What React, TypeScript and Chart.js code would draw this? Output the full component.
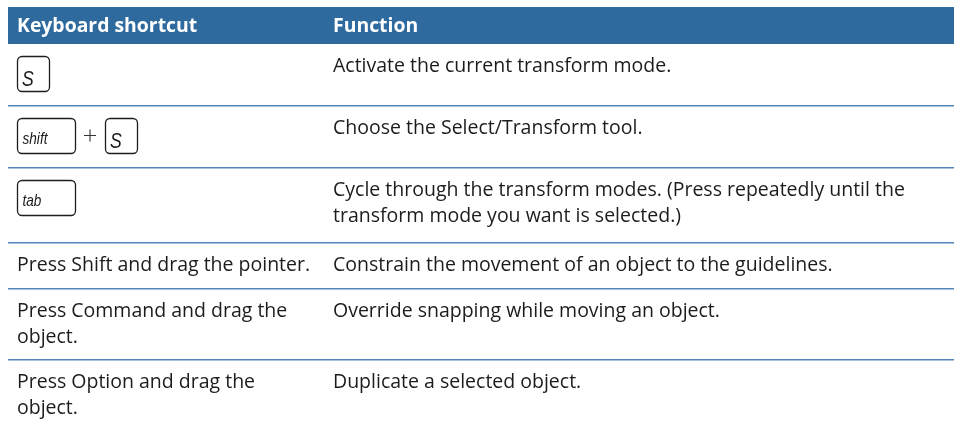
import React, { useEffect, useRef } from "react";
import { Chart, registerables } from "chart.js";

Chart.register(...registerables);

// ---------- data ----------
const headers: string[] = ["Keyboard shortcut", "Function"];

// keys pressed (null when the shortcut is described in words)
const shortcutKeys: (string[] | null)[] = [
  ["S"],
  ["shift", "S"],
  ["tab"],
  null,
  null,
  null,
];

const shortcutText: string[][] = [
  [],
  [],
  [],
  ["Press Shift and drag the pointer."],
  ["Press Command and drag the", "object."],
  ["Press Option and drag the", "object."],
];

const functionText: string[][] = [
  ["Activate the current transform mode."],
  ["Choose the Select/Transform tool."],
  [
    "Cycle through the transform modes. (Press repeatedly until the",
    "transform mode you want is selected.)",
  ],
  ["Constrain the movement of an object to the guidelines."],
  ["Override snapping while moving an object."],
  ["Duplicate a selected object."],
];

// ---------- layout (page-pixel units used on the scales) ----------
const W = 954;
const H = 426;
const TABLE_LEFT = 8;
const HEADER_TOP = 7;
const HEADER_BOTTOM = 44;
const ROW_TOPS = [44, 106, 168, 243, 289, 360];
const COL_X = [17, 333];
const BASELINE_OFFSET = 28;
const LINE_HEIGHT = 26;
const HEADER_BASELINE = 32;
const KEY_TOP_OFFSET = 12;
const KEY_H = 35;
const KEY_W_LETTER = 32;
const KEY_W_WORD = 58;
const KEY_GAP = 30;

const HEADER_BG = "#2e6a9e";
const RULE_COLOR = "#5585b8";
const TEXT_COLOR = "#1c1c1c";
const BODY_FONT = '19.5px "Open Sans"';
const HEAD_FONT = 'bold 19.4px "Open Sans"';

const tablePlugin = {
  id: "tableCells",
  beforeDraw(chart: any) {
    const { ctx, scales } = chart;
    const xs = scales.x;
    const ys = scales.y;
    const px = (v: number) => xs.getPixelForValue(v);
    const py = (v: number) => ys.getPixelForValue(v);
    ctx.save();
    ctx.fillStyle = "#ffffff";
    ctx.fillRect(0, 0, chart.width, chart.height);
    ctx.fillStyle = HEADER_BG;
    ctx.fillRect(px(TABLE_LEFT), py(HEADER_TOP), px(W) - px(TABLE_LEFT), py(HEADER_BOTTOM) - py(HEADER_TOP));
    ctx.restore();
  },
  afterDraw(chart: any) {
    const { ctx, scales } = chart;
    const xs = scales.x;
    const ys = scales.y;
    const px = (v: number) => xs.getPixelForValue(v);
    const py = (v: number) => ys.getPixelForValue(v);
    ctx.save();
    ctx.textBaseline = "alphabetic";
    ctx.textAlign = "left";

    // header labels
    ctx.fillStyle = "#ffffff";
    ctx.font = HEAD_FONT;
    headers.forEach((h, i) => ctx.fillText(h, px(COL_X[i]), py(HEADER_BASELINE)));

    // body
    ctx.fillStyle = TEXT_COLOR;
    ctx.font = BODY_FONT;
    ROW_TOPS.forEach((top, r) => {
      const base = top + BASELINE_OFFSET;
      shortcutText[r].forEach((line, li) => {
        ctx.fillText(line, px(COL_X[0]), py(base + li * LINE_HEIGHT));
      });
      functionText[r].forEach((line, li) => {
        ctx.fillText(line, px(COL_X[1]), py(base + li * LINE_HEIGHT));
      });

      const keys = shortcutKeys[r];
      if (keys) {
        let kx = COL_X[0];
        const ky = top + KEY_TOP_OFFSET;
        keys.forEach((k, ki) => {
          const single = k.length === 1;
          const kw = single ? KEY_W_LETTER : KEY_W_WORD;
          const x0 = px(kx);
          const y0 = py(ky);
          const w = px(kx + kw) - x0;
          const h = py(ky + KEY_H) - y0;
          ctx.save();
          ctx.strokeStyle = "#1e1e1e";
          ctx.lineWidth = 1.3;
          ctx.fillStyle = "#ffffff";
          ctx.beginPath();
          ctx.roundRect(x0 + 0.5, y0 + 0.5, w, h, 4.5);
          ctx.fill();
          ctx.stroke();
          // label (condensed italic)
          ctx.fillStyle = "#1a1a1a";
          ctx.font = single ? 'italic 22px "Liberation Sans"' : 'italic 17px "Liberation Sans"';
          const lx = x0 + (single ? 5 : 5.5);
          const ly = y0 + h - (single ? 5.5 : 9);
          ctx.translate(lx, ly);
          ctx.scale(0.8, 1);
          ctx.fillText(k, 0, 0);
          ctx.restore();

          if (ki < keys.length - 1) {
            // plus sign between keys
            const cx = px(kx + kw + KEY_GAP / 2);
            const cy = py(ky + KEY_H / 2);
            ctx.save();
            ctx.strokeStyle = "#333333";
            ctx.lineWidth = 1.1;
            ctx.beginPath();
            ctx.moveTo(cx - 6, cy);
            ctx.lineTo(cx + 6, cy);
            ctx.moveTo(cx, cy - 6);
            ctx.lineTo(cx, cy + 6);
            ctx.stroke();
            ctx.restore();
          }
          kx += kw + KEY_GAP;
        });
      }
    });
    ctx.restore();
  },
};

export default function App() {
  const ref = useRef<HTMLCanvasElement | null>(null);
  useEffect(() => {
    if (!ref.current) return;
    const separators = ROW_TOPS.slice(1);
    const chart = new Chart(ref.current, {
      type: "scatter",
      data: { datasets: [] },
      options: {
        animation: false,
        responsive: false,
        devicePixelRatio: 1,
        layout: { padding: { left: TABLE_LEFT, top: HEADER_TOP, right: 0, bottom: 0 } },
        plugins: { legend: { display: false }, tooltip: { enabled: false }, title: { display: false } },
        scales: {
          x: { type: "linear", min: TABLE_LEFT, max: W, display: false },
          y: {
            type: "linear",
            min: HEADER_TOP,
            max: H,
            reverse: true,
            display: true,
            border: { display: false },
            ticks: { display: false },
            grid: { drawTicks: false, color: RULE_COLOR, lineWidth: 1.6 },
            afterBuildTicks: (axis: any) => {
              axis.ticks = separators.map((v) => ({ value: v }));
            },
          },
        },
      },
      plugins: [tablePlugin],
    } as any);
    return () => chart.destroy();
  }, []);
  return (
    <div style={{ position: "absolute", left: 0, top: 0, width: W, height: H, background: "#fff" }}>
      <canvas ref={ref} width={W} height={H} style={{ display: "block", width: W, height: H }} />
    </div>
  );
}
